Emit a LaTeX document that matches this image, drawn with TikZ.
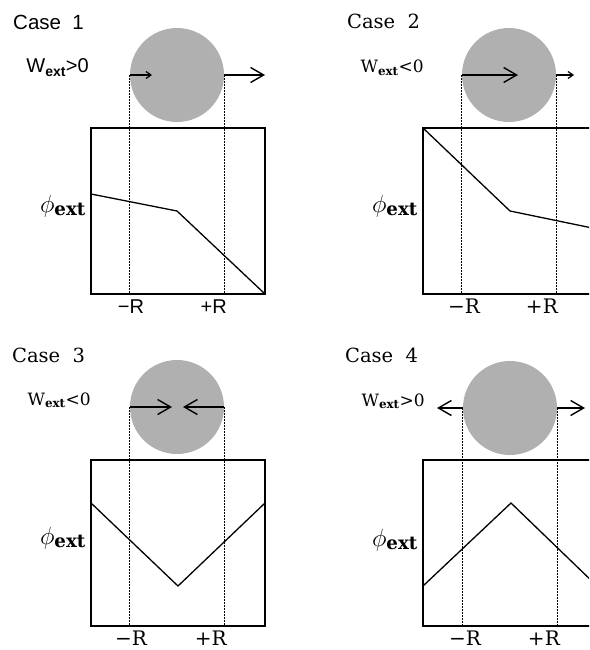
\documentclass[tikz,border=0pt]{standalone}
\usepackage{fontspec}
\usepackage{xcolor}
\usetikzlibrary{arrows.meta, positioning}
\setmainfont{DejaVu Serif}
\newfontfamily\plotsans{Liberation Sans}
\definecolor{ballgray}{gray}{0.69}

\begin{document}
\begin{tikzpicture}[
  x=1pt, y=-1pt,
  frame/.style={draw, line width=1.4pt, minimum width=174, minimum height=166, inner sep=0pt},
  ball/.style={circle, fill=ballgray, minimum size=94, inner sep=0pt},
  guide/.style={dash pattern=on 1.6pt off 1.4pt, line width=1pt},
  curve/.style={line width=1.3pt},
  bigarrow/.style={line width=1.4pt, -{Straight Barb[length=13pt, width=15pt]}},
  smallarrow/.style={line width=1.2pt, -{Straight Barb[length=5pt, width=7pt]}},
  casetext/.style={anchor=base west, inner sep=0pt, font=\fontsize{19.5}{22}\selectfont},
  worktext/.style={anchor=base east, inner sep=0pt, font=\fontsize{17}{20}\selectfont},
  phitext/.style={anchor=base east, inner sep=0pt, font=\fontsize{26}{28}\selectfont},
  ticktext/.style={anchor=base, inner sep=0pt, font=\fontsize{20}{22}\selectfont}
]
\useasboundingbox (0,0) rectangle (589,650);
\clip (0,0) rectangle (589,650);

% Case 1
\begin{scope}
\node[ball] (ball1) at (177,75) {};
\node[frame] (box1) at (178,211) {};
\coordinate (tipA1) at (152,75);
\coordinate (tipB1) at (265,75);
\draw[guide] (ball1.west) -- (ball1.west |- box1.south);
\draw[guide] (ball1.east) -- (ball1.east |- box1.south);
\draw[smallarrow] (ball1.west) -- (tipA1);
\draw[bigarrow] (ball1.east) -- (tipB1);
\draw[curve] (91,194) -- (177,211) -- (265,294);
\node[casetext] (case1) at (13,30) {\plotsans\fontsize{20.5}{22}\selectfont Case\ \ 1};
\node[worktext] (work1) at (89,73) {\plotsans\fontsize{20}{22}\selectfont W\textsubscript{\textbf{ext}}>0};
\node[phitext] (phi1) at (86,212) {$\phi_{\mathbf{ext}}$};
\node[ticktext] (minus1) at (131,313) {\plotsans\fontsize{20}{22}\selectfont −R};
\node[ticktext, anchor=base east] (plus1) at (227,313) {\plotsans\fontsize{20}{22}\selectfont +R};
\end{scope}

% Case 2
\begin{scope}[shift={(332,0)}]
\node[ball] (ball2) at (177,75) {};
\node[frame] (box2) at (178,211) {};
\coordinate (tipA2) at (186,75);
\coordinate (tipB2) at (242,75);
\draw[guide] (ball2.west) -- (ball2.west |- box2.south);
\draw[guide] (ball2.east) -- (ball2.east |- box2.south);
\draw[bigarrow] (ball2.west) -- (tipA2);
\draw[smallarrow] (ball2.east) -- (tipB2);
\draw[curve] (91,128) -- (178,211) -- (265,229);
\node[casetext] (case2) at (15,29) {Case\ \ 2};
\node[worktext] (work2) at (92,73) {W\textsubscript{\textbf{ext}}<0};
\node[phitext] (phi2) at (86,212) {$\phi_{\mathbf{ext}}$};
\node[ticktext] (minus2) at (132,313) {−R};
\node[ticktext, anchor=base east] (plus2) at (226,313) {+R};
\end{scope}

% Case 3
\begin{scope}[shift={(0,332)}]
\node[ball] (ball3) at (177,75) {};
\node[frame] (box3) at (178,211) {};
\coordinate (tipA3) at (172,75);
\coordinate (tipB3) at (183,75);
\draw[guide] (ball3.west) -- (ball3.west |- box3.south);
\draw[guide] (ball3.east) -- (ball3.east |- box3.south);
\draw[bigarrow] (ball3.west) -- (tipA3);
\draw[bigarrow] (ball3.east) -- (tipB3);
\draw[curve] (91,171) -- (178,254) -- (265,171);
\node[casetext] (case3) at (12,30) {Case\ \ 3};
\node[worktext] (work3) at (91,73) {W\textsubscript{\textbf{ext}}<0};
\node[phitext] (phi3) at (86,212) {$\phi_{\mathbf{ext}}$};
\node[ticktext] (minus3) at (131,313) {−R};
\node[ticktext, anchor=base east] (plus3) at (227,313) {+R};
\end{scope}

% Case 4
\begin{scope}[shift={(332,332)}]
\node[ball] (ball4) at (178,76) {};
\node[frame] (box4) at (178,211) {};
\coordinate (tipA4) at (105,76);
\coordinate (tipB4) at (253,76);
\draw[guide] (ball4.west) -- (ball4.west |- box4.south);
\draw[guide] (ball4.east) -- (ball4.east |- box4.south);
\draw[bigarrow] (ball4.west) -- (tipA4);
\draw[bigarrow] (ball4.east) -- (tipB4);
\draw[curve] (91,254) -- (179,171) -- (265,254);
\node[casetext] (case4) at (13,30) {Case\ \ 4};
\node[worktext] (work4) at (93,74) {W\textsubscript{\textbf{ext}}>0};
\node[phitext] (phi4) at (86,214) {$\phi_{\mathbf{ext}}$};
\node[ticktext] (minus4) at (133,313) {−R};
\node[ticktext, anchor=base east] (plus4) at (228,313) {+R};
\end{scope}
\end{tikzpicture}
\end{document}
